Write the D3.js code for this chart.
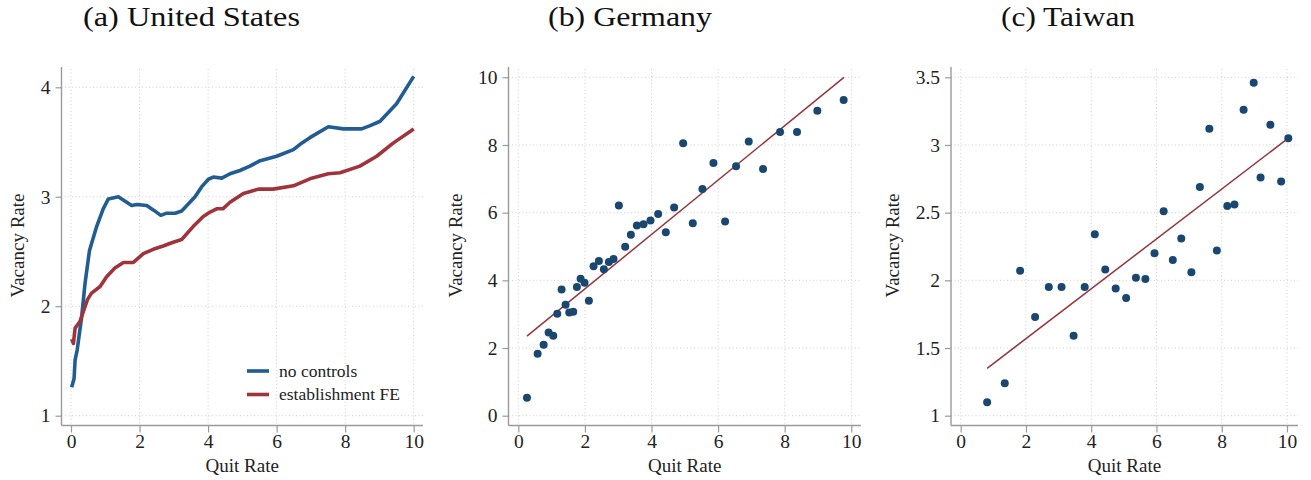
<!DOCTYPE html>
<html>
<head>
<meta charset="utf-8">
<script src="https://cdn.jsdelivr.net/npm/d3@7"></script>
<style>
  body { margin: 0; background: #fff; }
  svg { display: block; font-family: "Liberation Serif", "Times New Roman", serif; }
  .grid line { stroke: #cfcfcf; stroke-width: 1; stroke-dasharray: 1,2.5; }
  .axis path { display: none; }
  .axis line { stroke: #9a9a9a; stroke-width: 1.2; }
  .axis text { font-size: 19.5px; fill: #222; font-family: "Liberation Serif", serif; }
</style>
</head>
<body>
<div id="chart"></div>
<script>
// Panel (a) United States - binned lines
const usNoControlsX = [0.02, 0.09, 0.12, 0.18, 0.31, 0.41, 0.54, 0.75, 0.94, 1.09, 1.38, 1.58, 1.77, 1.92, 2.21, 2.40, 2.62, 2.79, 3.04, 3.23, 3.62, 3.81, 4.01, 4.15, 4.40, 4.64, 4.93, 5.22, 5.52, 6.00, 6.49, 6.73, 6.97, 7.51, 7.95, 8.48, 8.73, 9.02, 9.50, 10.0];
const usNoControlsY = [1.26, 1.34, 1.51, 1.60, 1.90, 2.21, 2.51, 2.73, 2.89, 2.98, 3.00, 2.96, 2.92, 2.93, 2.92, 2.88, 2.83, 2.85, 2.85, 2.87, 3.00, 3.09, 3.16, 3.18, 3.17, 3.21, 3.24, 3.28, 3.33, 3.37, 3.43, 3.49, 3.54, 3.64, 3.62, 3.62, 3.65, 3.69, 3.85, 4.10];
const usEstabFEX = [0.02, 0.07, 0.12, 0.26, 0.36, 0.48, 0.60, 0.85, 1.04, 1.28, 1.53, 1.82, 2.11, 2.40, 2.69, 2.94, 3.23, 3.57, 3.86, 4.06, 4.25, 4.43, 4.64, 5.03, 5.47, 5.90, 6.49, 7.02, 7.51, 7.85, 8.43, 8.92, 9.40, 10.0];
const usEstabFEY = [1.70, 1.66, 1.80, 1.86, 1.95, 2.06, 2.12, 2.18, 2.27, 2.35, 2.40, 2.40, 2.48, 2.52, 2.55, 2.58, 2.61, 2.73, 2.82, 2.86, 2.89, 2.89, 2.95, 3.03, 3.07, 3.07, 3.10, 3.17, 3.21, 3.22, 3.28, 3.37, 3.49, 3.62];
const usLegend = ["no controls", "establishment FE"];

// Panel (b) Germany - binned scatter + fit
const deQuit = [0.26, 0.58, 0.76, 0.91, 1.05, 1.17, 1.30, 1.42, 1.53, 1.65, 1.76, 1.87, 1.99, 2.12, 2.26, 2.42, 2.57, 2.72, 2.86, 3.02, 3.21, 3.38, 3.56, 3.76, 3.97, 4.20, 4.43, 4.68, 4.95, 5.24, 5.53, 5.86, 6.21, 6.54, 6.92, 7.35, 7.86, 8.37, 8.98, 9.77];
const deVac = [0.53, 1.83, 2.10, 2.46, 2.36, 3.01, 3.73, 3.28, 3.05, 3.07, 3.80, 4.05, 3.93, 3.40, 4.42, 4.57, 4.33, 4.54, 4.63, 6.21, 4.99, 5.35, 5.62, 5.66, 5.77, 5.96, 5.42, 6.15, 8.05, 5.69, 6.70, 7.47, 5.74, 7.37, 8.10, 7.29, 8.38, 8.38, 9.01, 9.33];
const deFitX = [0.26, 9.78];
const deFitY = [2.35, 10.0];

// Panel (c) Taiwan - binned scatter + fit
const twQuit = [0.81, 1.35, 1.82, 2.28, 2.70, 3.09, 3.46, 3.80, 4.11, 4.43, 4.75, 5.07, 5.37, 5.66, 5.94, 6.22, 6.50, 6.76, 7.07, 7.33, 7.62, 7.85, 8.17, 8.39, 8.67, 8.98, 9.19, 9.49, 9.82, 10.04];
const twVac = [1.10, 1.24, 2.07, 1.73, 1.95, 1.95, 1.59, 1.95, 2.34, 2.08, 1.94, 1.87, 2.02, 2.01, 2.20, 2.51, 2.15, 2.31, 2.06, 2.69, 3.12, 2.22, 2.55, 2.56, 3.26, 3.46, 2.76, 3.15, 2.73, 3.05];
const twFitX = [0.81, 10.04];
const twFitY = [1.35, 3.05];

const titles = ["(a) United States", "(b) Germany", "(c) Taiwan"];
const xTicks = [0, 2, 4, 6, 8, 10];
const usYTicks = [1, 2, 3, 4];
const deYTicks = [0, 2, 4, 6, 8, 10];
const twYTicks = [1, 1.5, 2, 2.5, 3, 3.5];

const blue = "#215d92", red = "#a0343c", navy = "#1a476f", maroon = "#93363d";

const svg = d3.select("#chart").append("svg")
    .attr("width", 1311)
    .attr("height", 480);

// Layout per panel: axis frame + where the scale domain maps to
const panels = [
  { left: 61.5, right: 423, top: 67, bottom: 425.5, x0: 71, x1: 413.7, yDom: [1, 4], yRange: [415.7, 87.3], yTicks: usYTicks, yFmt: d3.format("d"), titleX: 83, titleW: 217, ylabX: 24 },
  { left: 508.5, right: 861, top: 67, bottom: 425.5, x0: 518.3, x1: 851.3, yDom: [0, 10], yRange: [415.7, 77.3], yTicks: deYTicks, yFmt: d3.format("d"), titleX: 548, titleW: 164, ylabX: 461.5 },
  { left: 951, right: 1298, top: 67, bottom: 425.5, x0: 960.7, x1: 1287, yDom: [1, 3.5], yRange: [415.7, 77.3], yTicks: twYTicks, yFmt: d => String(d), titleX: 1001, titleW: 134, ylabX: 899 }
];

panels.forEach(function(p, i) {
  const x = d3.scaleLinear().domain([0, 10]).range([p.x0, p.x1]);
  const y = d3.scaleLinear().domain(p.yDom).range(p.yRange);
  p.x = x; p.y = y;
  const g = svg.append("g");

  // dotted grid
  const grid = g.append("g").attr("class", "grid");
  grid.selectAll(".gx").data(xTicks).enter().append("line")
      .attr("x1", d => x(d)).attr("x2", d => x(d))
      .attr("y1", p.top + 2).attr("y2", p.bottom);
  grid.selectAll(".gy").data(p.yTicks).enter().append("line")
      .attr("x1", p.left).attr("x2", p.right)
      .attr("y1", d => y(d)).attr("y2", d => y(d));

  // axes
  g.append("g").attr("class", "axis")
      .attr("transform", `translate(${p.left},0)`)
      .call(d3.axisLeft(y).tickValues(p.yTicks).tickFormat(p.yFmt).tickSize(6).tickPadding(5));
  g.append("g").attr("class", "axis")
      .attr("transform", `translate(0,${p.bottom})`)
      .call(d3.axisBottom(x).tickValues(xTicks).tickFormat(d3.format("d")).tickSize(7).tickPadding(2));
  g.append("line").attr("x1", p.left).attr("x2", p.left).attr("y1", p.top).attr("y2", p.bottom)
      .attr("stroke", "#9a9a9a").attr("stroke-width", 1.4);
  g.append("line").attr("x1", p.left).attr("x2", p.right).attr("y1", p.bottom).attr("y2", p.bottom)
      .attr("stroke", "#9a9a9a").attr("stroke-width", 1.4);

  // labels
  g.append("text")
      .attr("x", (p.left + p.right) / 2).attr("y", 472)
      .attr("text-anchor", "middle").attr("font-size", 19).attr("fill", "#222")
      .text("Quit Rate");
  g.append("text")
      .attr("transform", `translate(${p.ylabX},245.5)rotate(-90)`)
      .attr("text-anchor", "middle").attr("font-size", 19).attr("fill", "#222")
      .text("Vacancy Rate");
  g.append("text")
      .attr("x", p.titleX).attr("y", 26)
      .attr("font-size", 28).attr("fill", "#111")
      .attr("textLength", p.titleW).attr("lengthAdjust", "spacingAndGlyphs")
      .text(titles[i]);
});

// (a) lines
const pa = panels[0];
const lineA = d3.line().x(d => pa.x(d[0])).y(d => pa.y(d[1]));
svg.append("path")
    .datum(d3.zip(usNoControlsX, usNoControlsY))
    .attr("d", lineA).attr("fill", "none").attr("stroke", blue)
    .attr("stroke-width", 3.6).attr("stroke-linejoin", "round");
svg.append("path")
    .datum(d3.zip(usEstabFEX, usEstabFEY))
    .attr("d", lineA).attr("fill", "none").attr("stroke", red)
    .attr("stroke-width", 3.6).attr("stroke-linejoin", "round");

const legend = svg.append("g").attr("transform", "translate(247,371)");
legend.selectAll("line").data(usLegend).enter().append("line")
    .attr("x1", 0).attr("x2", 22)
    .attr("y1", (d, i) => i * 23.5).attr("y2", (d, i) => i * 23.5)
    .attr("stroke", (d, i) => i ? red : blue).attr("stroke-width", 3.6);
legend.selectAll("text").data(usLegend).enter().append("text")
    .attr("x", 32).attr("y", (d, i) => i * 23.5 + 5.5)
    .attr("font-size", 17.5).attr("fill", "#222")
    .text(d => d);

// (b) and (c) scatter with fit lines
function scatter(p, xs, ys, fx, fy) {
  svg.append("line")
      .attr("x1", p.x(fx[0])).attr("y1", p.y(fy[0]))
      .attr("x2", p.x(fx[1])).attr("y2", p.y(fy[1]))
      .attr("stroke", maroon).attr("stroke-width", 1.5);
  svg.append("g").selectAll("circle")
      .data(d3.zip(xs, ys))
      .enter().append("circle")
      .attr("cx", d => p.x(d[0]))
      .attr("cy", d => p.y(d[1]))
      .attr("r", 4)
      .attr("fill", navy);
}
scatter(panels[1], deQuit, deVac, deFitX, deFitY);
scatter(panels[2], twQuit, twVac, twFitX, twFitY);
</script>
</body>
</html>
